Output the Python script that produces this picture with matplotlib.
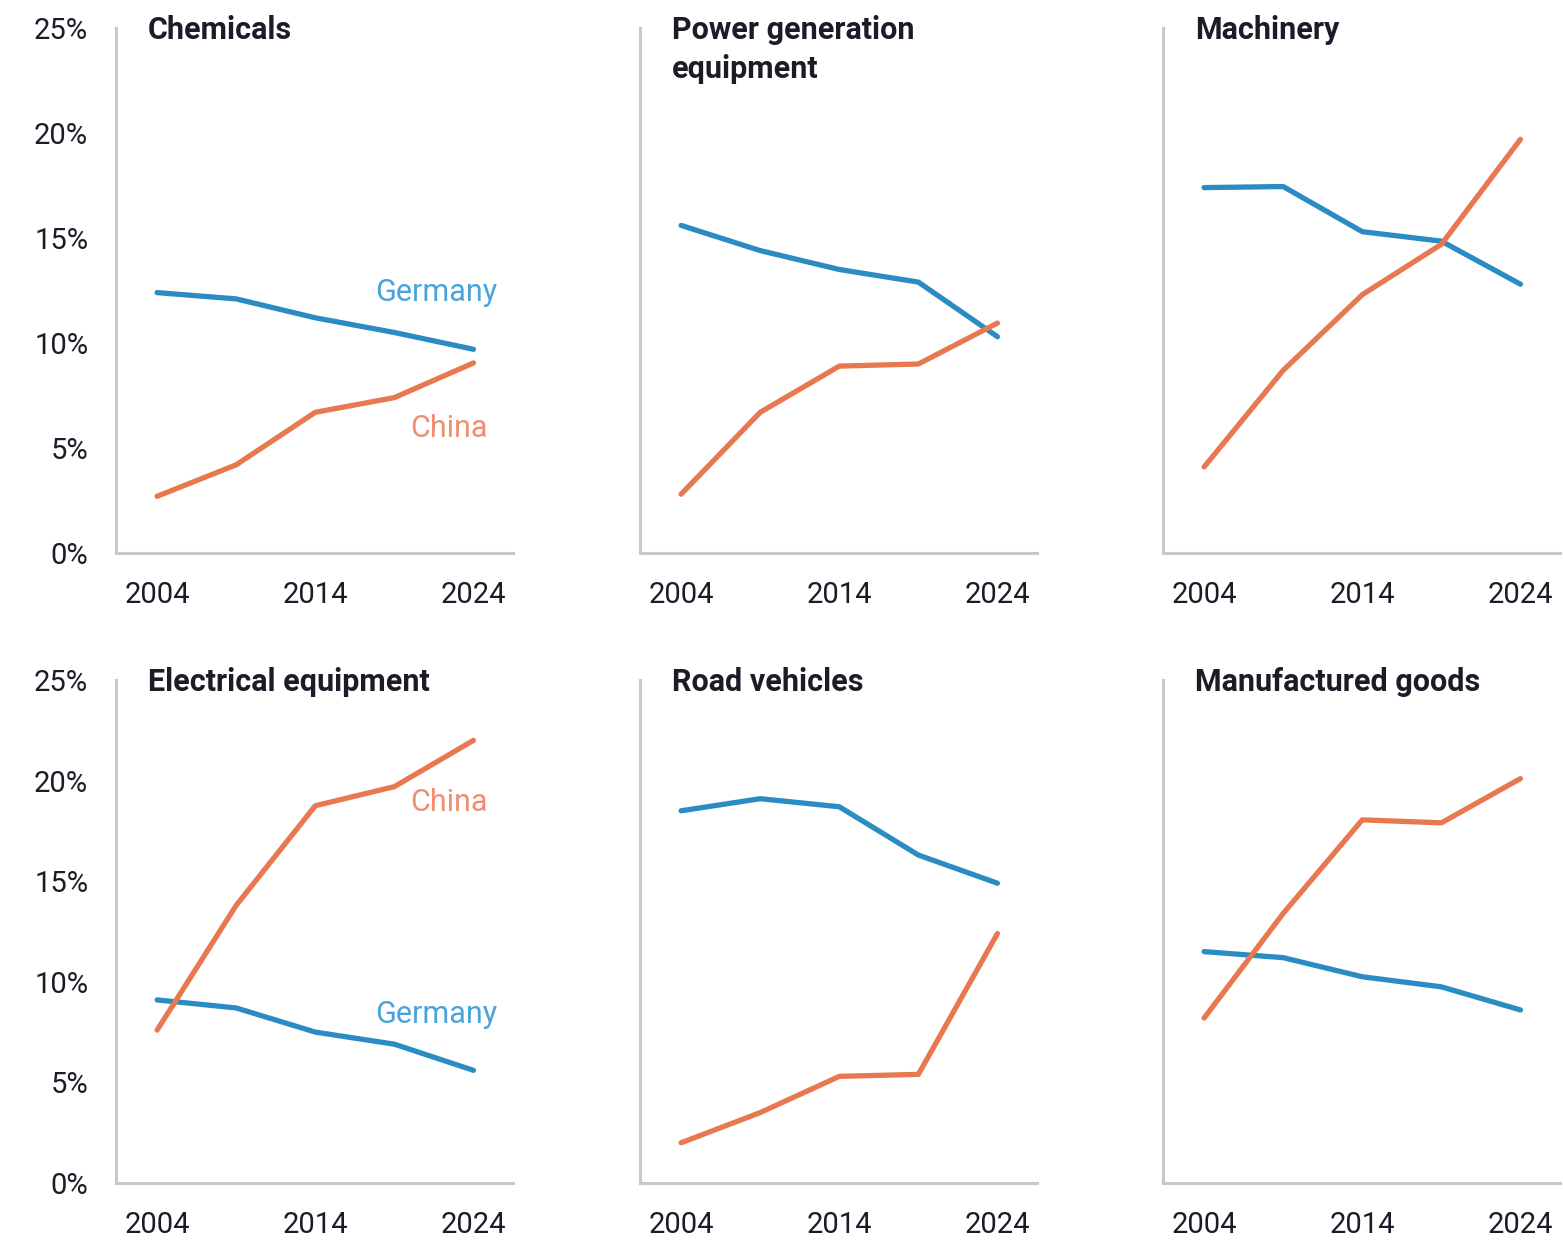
import matplotlib
matplotlib.use("Agg")
import matplotlib.pyplot as plt

plt.rcParams['font.family'] = ['Roboto', 'DejaVu Sans']

years = [2004, 2009, 2014, 2019, 2024]
xtick_years = [2004, 2014, 2024]
yticks = [0, 5, 10, 15, 20, 25]
ytick_labels = ["0%", "5%", "10%", "15%", "20%", "25%"]

titles = ["Chemicals", "Power generation\nequipment", "Machinery",
          "Electrical equipment", "Road vehicles", "Manufactured goods"]

germany_chemicals = [12.4, 12.1, 11.2, 10.5, 9.7]
china_chemicals = [2.7, 4.2, 6.7, 7.4, 9.05]
germany_power = [15.6, 14.4, 13.5, 12.9, 10.3]
china_power = [2.8, 6.7, 8.9, 9.0, 10.95]
germany_machinery = [17.4, 17.45, 15.3, 14.85, 12.8]
china_machinery = [4.1, 8.7, 12.3, 14.7, 19.7]
germany_electrical = [9.1, 8.7, 7.5, 6.9, 5.6]
china_electrical = [7.6, 13.8, 18.75, 19.7, 22.0]
germany_road = [18.5, 19.1, 18.7, 16.3, 14.9]
china_road = [2.0, 3.5, 5.3, 5.4, 12.4]
germany_manuf = [11.5, 11.2, 10.25, 9.75, 8.6]
china_manuf = [8.2, 13.4, 18.05, 17.9, 20.1]

germany_series = [germany_chemicals, germany_power, germany_machinery,
                  germany_electrical, germany_road, germany_manuf]
china_series = [china_chemicals, china_power, china_machinery,
                china_electrical, china_road, china_manuf]

blue = "#2b8cc4"
orange = "#e8784f"
blue_label = "#4aa3da"
orange_label = "#ef8f72"
text_col = "#1c1c28"
spine_col = "#c8c8c8"

W, H = 1563, 1247
fig = plt.figure(figsize=(W / 100, H / 100), dpi=100)

# panel geometry (pixels)
col_left = [116, 640, 1163]
col_width = 397
row_top = [28, 680]
row_bottom = [553, 1183]

for i in range(6):
    r, c = divmod(i, 3)
    ax = fig.add_axes([col_left[c] / W, 1 - row_bottom[r] / H,
                       col_width / W, (row_bottom[r] - row_top[r]) / H])
    ax.plot(years, germany_series[i], color=blue, lw=3.8, solid_capstyle='round')
    ax.plot(years, china_series[i], color=orange, lw=3.8, solid_capstyle='round')
    ax.set_xlim(2001.4, 2026.5)
    ax.set_ylim(0, 25)
    for s in ['top', 'right']:
        ax.spines[s].set_visible(False)
    for s in ['left', 'bottom']:
        ax.spines[s].set_color(spine_col)
        ax.spines[s].set_linewidth(2.2)
    ax.set_xticks(xtick_years)
    ax.set_xticklabels([str(y) for y in xtick_years])
    ax.set_yticks(yticks)
    if c == 0:
        ax.set_yticklabels(ytick_labels)
    else:
        ax.set_yticklabels([])
    ax.tick_params(length=0, labelsize=21, colors=text_col, pad=20)
    ax.tick_params(axis='y', pad=20)
    ax.text(0.08, 1.025, titles[i], transform=ax.transAxes, ha='left', va='top',
            fontsize=22, fontweight='bold', color=text_col, linespacing=1.4)

    if i == 0:
        ax.text(2025.5, 12.4, "Germany", color=blue_label, fontsize=22,
                ha='right', va='center')
        ax.text(2024.9, 5.95, "China", color=orange_label, fontsize=22,
                ha='right', va='center')
    if i == 3:
        ax.text(2024.9, 18.9, "China", color=orange_label, fontsize=22,
                ha='right', va='center')
        ax.text(2025.5, 8.35, "Germany", color=blue_label, fontsize=22,
                ha='right', va='center')

fig.savefig("out.png", dpi=100)
